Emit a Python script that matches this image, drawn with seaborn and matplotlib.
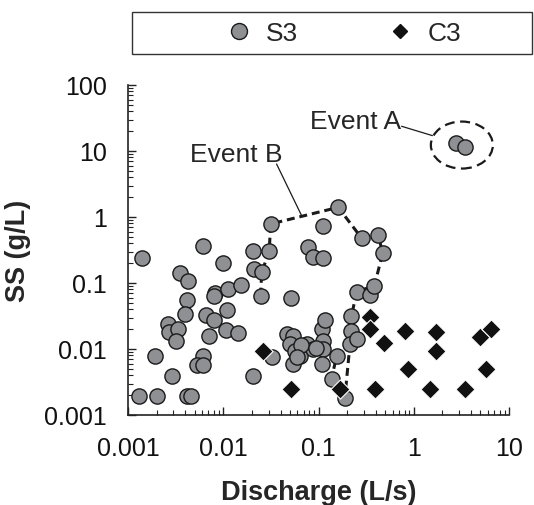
import numpy as np
import pandas as pd
import matplotlib
matplotlib.use("Agg")
import matplotlib.pyplot as plt
import seaborn as sns
from matplotlib import transforms
from matplotlib.patches import Ellipse, Rectangle
from matplotlib.lines import Line2D
from matplotlib.ticker import FixedLocator, FixedFormatter, LogLocator, NullFormatter

# ---- data ----
s3_q = [0.00139, 0.00608, 0.0100, 0.00352, 0.00429, 0.00419, 0.00818, 0.0080, 0.0113, 0.0152,
        0.0109, 0.00658, 0.0080, 0.00396, 0.00265, 0.00272, 0.00337, 0.00319, 0.00713, 0.0106,
        0.0144, 0.00192, 0.00608, 0.00533, 0.00616, 0.00292, 0.0203, 0.0013, 0.0020, 0.00413,
        0.00458, 0.0314, 0.161, 0.112, 0.283, 0.423, 0.471, 0.0203, 0.0304, 0.078,
        0.0868, 0.112, 0.021, 0.0253, 0.0247, 0.0513, 0.251, 0.345, 0.387, 0.0322,
        0.0463, 0.0543, 0.050, 0.0564, 0.0638, 0.0543, 0.075, 0.088, 0.108, 0.117,
        0.112, 0.112, 0.108, 0.155, 0.137, 0.189, 0.219, 0.222, 0.214, 0.251,
        0.066, 0.095, 0.060, 2.77, 3.44]
s3_ss = [0.239, 0.367, 0.198, 0.140, 0.109, 0.056, 0.0704, 0.063, 0.081, 0.094,
         0.039, 0.033, 0.0278, 0.0339, 0.0239, 0.0179, 0.0204, 0.0134, 0.0156, 0.0194,
         0.0175, 0.00775, 0.0079, 0.00578, 0.00578, 0.00394, 0.00394, 0.00192, 0.00192, 0.00192,
         0.00196, 0.784, 1.40, 0.738, 0.481, 0.54, 0.285, 0.302, 0.302, 0.355,
         0.245, 0.237, 0.163, 0.145, 0.0644, 0.060, 0.0738, 0.0658, 0.091, 0.0076,
         0.0169, 0.0159, 0.0119, 0.0094, 0.0079, 0.0059, 0.0119, 0.0100, 0.0201, 0.0273,
         0.0134, 0.0100, 0.0059, 0.0079, 0.0035, 0.0018, 0.0312, 0.0189, 0.0119, 0.0141,
         0.0115, 0.0105, 0.0075, 13.2, 11.4]

c3_q = [0.0263, 0.052, 0.168, 0.346, 0.346, 0.39, 0.486, 0.807, 0.868, 1.48,
        1.73, 1.73, 3.44, 4.94, 5.8, 6.55]
c3_ss = [0.0094, 0.00248, 0.00248, 0.0302, 0.0201, 0.00248, 0.0123, 0.0189, 0.00498, 0.00248,
         0.0179, 0.0094, 0.00248, 0.015, 0.00498, 0.0201]

event_b_q = [0.0247, 0.0253, 0.0304, 0.0314, 0.161, 0.283, 0.423, 0.471, 0.387, 0.251,
             0.222, 0.222, 0.214, 0.189, 0.137, 0.155]
event_b_ss = [0.0644, 0.145, 0.302, 0.784, 1.40, 0.481, 0.54, 0.285, 0.091, 0.0738,
              0.0312, 0.0189, 0.0119, 0.0018, 0.0035, 0.0079]

x_ticks = [0.001, 0.01, 0.1, 1, 10]
x_tick_labels = ["0.001", "0.01", "0.1", "1", "10"]
y_ticks = [0.001, 0.01, 0.1, 1, 10, 100]
y_tick_labels = ["0.001", "0.01", "0.1", "1", "10", "100"]
series_labels = ["S3", "C3"]

# ---- style ----
sns.set_theme(style="ticks")
plt.rcParams["font.family"] = ["Liberation Sans", "DejaVu Sans"]

FS = 18
gray = "#8e9093"

fig = plt.figure(figsize=(5.34, 5.06), dpi=100)
ax = fig.add_axes([128 / 534, 1 - 416 / 506, 381 / 534, 330 / 506])

df_s3 = pd.DataFrame({"Q": s3_q, "SS": s3_ss, "site": series_labels[0]})
df_c3 = pd.DataFrame({"Q": c3_q, "SS": c3_ss, "site": series_labels[1]})

ax.set_xscale("log")
ax.set_yscale("log")

# Event B dashed outline (behind points)
ax.plot(event_b_q, event_b_ss, ls=(0, (2.6, 1.6)), lw=2.2, color="#1a1a1a", zorder=2)

sns.scatterplot(data=df_s3, x="Q", y="SS", marker="o", s=120, color=gray,
                edgecolor="#1a1a1a", linewidth=1.0, ax=ax, zorder=3, legend=False)
sns.scatterplot(data=df_c3, x="Q", y="SS", marker="D", s=95, color="#111111",
                edgecolor="white", linewidth=0.8, ax=ax, zorder=4, legend=False)

ax.set_xlim(0.001, 10)
ax.set_ylim(0.001, 100)

ax.xaxis.set_major_locator(FixedLocator(x_ticks))
ax.xaxis.set_major_formatter(FixedFormatter(x_tick_labels))
ax.yaxis.set_major_locator(FixedLocator(y_ticks))
ax.yaxis.set_major_formatter(FixedFormatter(y_tick_labels))
ax.xaxis.set_minor_locator(LogLocator(base=10, subs=np.arange(2, 10), numticks=50))
ax.yaxis.set_minor_locator(LogLocator(base=10, subs=np.arange(2, 10), numticks=50))
ax.xaxis.set_minor_formatter(NullFormatter())
ax.yaxis.set_minor_formatter(NullFormatter())

ax.tick_params(which="major", direction="in", length=5.5, width=1.0, color="#222222",
               labelsize=FS, pad=15, labelcolor="#111111")
ax.tick_params(which="minor", direction="in", length=3.5, width=0.8, color="#222222")

for side in ["top", "right"]:
    ax.spines[side].set_visible(False)
for side in ["left", "bottom"]:
    ax.spines[side].set_linewidth(1.2)
    ax.spines[side].set_color("#222222")

ax.set_xlabel("Discharge (L/s)", fontsize=19.5, fontweight="bold", va="center")
ax.set_ylabel("SS (g/L)", fontsize=19.5, fontweight="bold", va="center")
ax.xaxis.set_label_coords(0.5, (416 - 493) / 330)
ax.yaxis.set_label_coords((18 - 128) / 381, 0.5)

# Event A ellipse (dashed) around the two points
xc, yc = 3.2, 12.3
trans = fig.dpi_scale_trans + transforms.ScaledTranslation(xc, yc, ax.transData)
ell = Ellipse((0, 0), width=0.62, height=0.47, transform=trans, fill=False,
              ls=(0, (4.5, 2.5)), lw=1.6, edgecolor="#1a1a1a", zorder=5)
ax.add_artist(ell)

# annotations
ax.text(0.246, 28.8, "Event A", ha="center", va="center", fontsize=19)
ax.annotate("", xy=(1.57, 17.1), xytext=(0.745, 23.7),
            arrowprops=dict(arrowstyle="-", lw=0.9, color="#1a1a1a", shrinkA=0, shrinkB=0))
ax.text(0.0136, 9.0, "Event B", ha="center", va="center", fontsize=19)
ax.annotate("", xy=(0.0665, 1.047), xytext=(0.0363, 6.35),
            arrowprops=dict(arrowstyle="-", lw=0.9, color="#1a1a1a", shrinkA=0, shrinkB=0))

# legend box on top
fig.add_artist(Rectangle((131.7 / 534, 1 - 55 / 506), (532 - 131.7) / 534, 41.7 / 506,
                         transform=fig.transFigure, fill=False, ec="#333333", lw=1.0))
handles = [
    Line2D([], [], ls="", marker="o", markersize=11.5, markerfacecolor=gray,
           markeredgecolor="#1a1a1a", markeredgewidth=1.0),
    Line2D([], [], ls="", marker="D", markersize=7.5, markerfacecolor="#111111",
           markeredgecolor="#111111"),
]
fig.legend(handles, series_labels, loc="center", bbox_to_anchor=(340 / 534, 1 - 34 / 506),
           ncol=2, frameon=False, fontsize=19, handletextpad=0.3, columnspacing=3.1,
           handlelength=1.5)

fig.savefig("out.png", dpi=100)
